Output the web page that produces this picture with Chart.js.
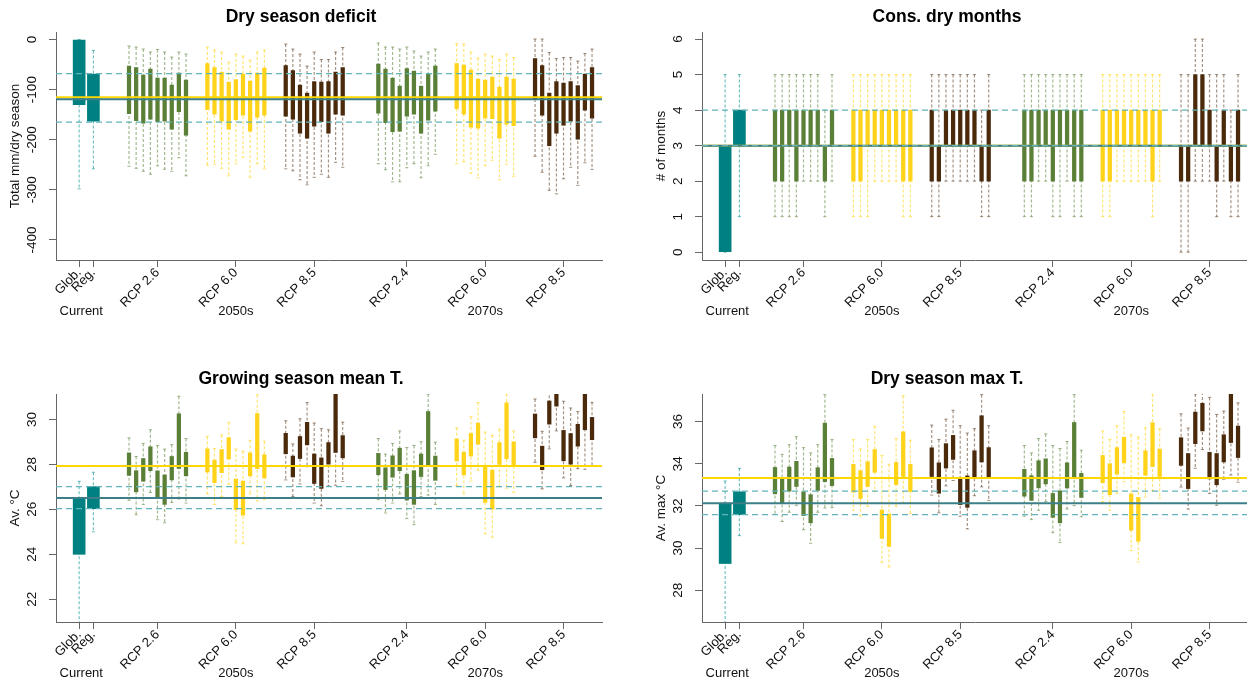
<!DOCTYPE html>
<html>
<head>
<meta charset="utf-8">
<title>Dry season indicators</title>
<script src="https://cdn.jsdelivr.net/npm/chart.js@4.4.1/dist/chart.umd.min.js"></script>
<style>
  html, body { margin: 0; padding: 0; background: #fff; }
  body { width: 1247px; height: 683px; overflow: hidden; position: relative; }
  canvas { position: absolute; }
</style>
</head>
<body>
<canvas id="deficitChart" width="646" height="342" style="left:0;top:0"></canvas>
<canvas id="monthsChart" width="646" height="342" style="left:646px;top:0"></canvas>
<canvas id="meanTChart" width="646" height="342" style="left:0;top:362px"></canvas>
<canvas id="maxTChart" width="646" height="342" style="left:646px;top:362px"></canvas>
<script>
const FONT = "'Liberation Sans', Arial, Helvetica, sans-serif";
Chart.defaults.font.family = FONT;

// x axis: one slot per bar, Glob./Reg. first, then 6 scenario groups of 9 models
const currentSlots = [0, 2];
const groupFirstSlot = [7, 18, 29, 42, 53, 64];
const modelsPerGroup = 9;
const xMin = -3.25;
const xMax = 73.4;

const xTickPos = [0, 2, 11, 22, 33, 46, 57, 68];
const xTickLabels = ["Glob.", "Reg.", "RCP 2.6", "RCP 6.0", "RCP 8.5", "RCP 2.4", "RCP 6.0", "RCP 8.5"];
const periodPos = [0.3, 22, 57];
const periodLabels = ["Current", "2050s", "2070s"];

// every row: [box top, box bottom, whisker top, whisker bottom]
// groups of 9 rows: RCP 2.6 (2.4), RCP 6.0, RCP 8.5

// Dry season deficit (mm)
const deficitCurrent = [[0, -130, 0, -298], [-69, -163, -22, -258]];
const deficit2050 = [
  [-53, -148, -13, -253], [-56, -162, -15, -257], [-71, -167, -19, -263], [-59, -159, -25, -269], [-77, -164, -20, -252],
  [-77, -163, -25, -259], [-91, -179, -35, -263], [-67, -144, -25, -236], [-81, -191, -29, -272],
  [-48, -140, -15, -251], [-56, -149, -21, -249], [-65, -163, -25, -257], [-85, -179, -45, -272], [-80, -160, -29, -248],
  [-69, -151, -33, -235], [-83, -183, -41, -275], [-67, -155, -25, -248], [-57, -151, -21, -258],
  [-52, -153, -9, -258], [-62, -159, -19, -262], [-91, -187, -29, -280], [-107, -197, -53, -290], [-84, -173, -25, -275],
  [-85, -164, -40, -269], [-84, -187, -40, -275], [-65, -149, -25, -245], [-56, -151, -16, -255],
];
const deficit2070 = [
  [-49, -147, -7, -248], [-59, -166, -15, -260], [-77, -184, -15, -284], [-93, -183, -19, -284], [-58, -153, -15, -256],
  [-63, -149, -23, -248], [-93, -187, -33, -276], [-69, -161, -25, -252], [-53, -143, -19, -229],
  [-48, -138, -8, -248], [-51, -149, -9, -244], [-61, -175, -25, -267], [-79, -177, -37, -276], [-81, -157, -29, -252],
  [-75, -158, -33, -241], [-95, -197, -40, -280], [-75, -169, -29, -249], [-79, -172, -36, -273],
  [-38, -119, 1, -233], [-52, -151, 1, -265], [-107, -212, -26, -301], [-84, -187, -38, -308], [-87, -171, -36, -278],
  [-84, -163, -36, -255], [-92, -199, -43, -291], [-69, -141, -28, -246], [-56, -157, -19, -259],
];
// reference lines: [upper dashed, lower dashed, regional median, future median]
const deficitRef = [-68, -165, -119, -115];
const deficitTicks = [0, -100, -200, -300, -400];

// Consecutive dry months
const monthsCurrent = [[3, 0, 5, 0], [4, 3, 5, 1]];
const months2050 = [
  [4, 2, 5, 1], [4, 2, 5, 1], [4, 3, 5, 1], [4, 2, 5, 1], [4, 3, 5, 2], [4, 3, 5, 2], [4, 3, 5, 2], [3, 2, 4, 1], [4, 3, 5, 2],
  [4, 2, 5, 1], [4, 2, 5, 1], [4, 3, 5, 1], [4, 3, 5, 2], [4, 3, 5, 2], [4, 3, 5, 2], [4, 3, 5, 2], [4, 2, 5, 1], [4, 2, 5, 1],
  [4, 2, 5, 1], [3, 2, 5, 1], [4, 3, 5, 2], [4, 3, 5, 2], [4, 3, 5, 2], [4, 3, 5, 2], [4, 3, 5, 2], [3, 2, 4, 1], [4, 2, 5, 1],
];
const months2070 = [
  [4, 2, 5, 1], [4, 2, 5, 1], [4, 3, 5, 2], [4, 3, 5, 2], [4, 2, 5, 1], [4, 3, 5, 1], [4, 3, 5, 2], [4, 2, 5, 1], [4, 2, 5, 1],
  [4, 2, 5, 1], [4, 2, 5, 1], [4, 3, 5, 2], [4, 3, 5, 2], [4, 3, 5, 2], [4, 3, 5, 2], [4, 3, 5, 2], [4, 2, 5, 1], [4, 3, 5, 2],
  [3, 2, 5, 0], [3, 2, 5, 0], [5, 3, 6, 2], [5, 3, 6, 2], [4, 3, 5, 2], [3, 2, 5, 1], [4, 3, 5, 2], [3, 2, 4, 1], [4, 2, 5, 1],
];
const monthsRef = [4, 3, 3, 3];
const monthsTicks = [0, 1, 2, 3, 4, 5, 6];

// Growing season mean temperature (°C)
const meanTCurrent = [[26.51, 24.0, 27.25, 20.5], [27.01, 26.03, 27.65, 25.0]];
const meanT2050 = [
  [28.51, 27.51, 29.18, 26.4], [27.72, 26.78, 28.35, 25.76], [28.26, 27.25, 28.93, 26.22], [28.78, 27.72, 29.54, 26.75],
  [27.71, 26.54, 28.84, 25.54], [27.53, 26.22, 28.68, 25.4], [28.35, 27.31, 28.88, 26.31], [30.25, 27.82, 31.03, 26.46],
  [28.54, 27.49, 29.15, 26.28],
  [28.69, 27.66, 29.24, 26.68], [28.19, 27.19, 28.71, 26.22], [28.66, 27.63, 29.31, 26.57], [29.19, 28.24, 29.87, 27.12],
  [27.35, 25.99, 28.68, 24.51], [27.26, 25.74, 28.59, 24.47], [28.51, 27.49, 29.07, 26.68], [30.26, 27.81, 31.1, 26.37],
  [28.43, 27.4, 29.03, 26.43],
  [29.38, 28.47, 29.94, 27.31], [28.37, 27.44, 28.91, 26.57], [29.24, 28.26, 30.03, 27.13], [29.87, 28.87, 30.75, 27.9],
  [28.46, 27.15, 29.84, 26.28], [28.29, 26.93, 29.59, 26.16], [28.97, 28.01, 29.54, 27.04], [31.5, 28.53, 32.0, 27.07],
  [29.28, 28.29, 29.88, 27.24],
];
const meanT2070 = [
  [28.49, 27.54, 29.15, 26.43], [27.85, 26.88, 28.46, 25.84], [28.38, 27.43, 28.93, 26.28], [28.72, 27.72, 29.49, 26.69],
  [27.56, 26.41, 28.75, 25.59], [27.72, 26.22, 28.84, 25.32], [28.46, 27.46, 29.01, 26.57], [30.35, 27.97, 31.13, 26.63],
  [28.37, 27.29, 28.99, 26.22],
  [29.13, 28.15, 29.63, 27.06], [28.54, 27.53, 29.07, 26.68], [29.37, 28.37, 30.12, 27.26], [29.84, 28.9, 30.75, 27.74],
  [27.93, 26.31, 29.44, 24.91], [27.75, 26.01, 29.29, 24.76], [28.97, 28.0, 29.56, 27.0], [30.74, 28.25, 31.13, 26.94],
  [29.0, 27.93, 29.49, 26.76],
  [30.24, 29.18, 30.91, 28.09], [28.81, 27.76, 29.47, 26.91], [30.82, 29.79, 31.3, 28.69], [31.6, 30.59, 32.3, 29.49],
  [29.51, 28.16, 30.81, 27.4], [29.37, 28.01, 30.51, 27.06], [29.78, 28.81, 30.35, 27.81], [31.2, 29.54, 31.6, 27.78],
  [30.09, 29.1, 30.76, 27.93],
];
const meanTRef = [27.01, 26.03, 26.5, 27.93];
const meanTTicks = [22, 24, 26, 28, 30];

// Dry season maximum temperature (°C)
const maxTCurrent = [[32.13, 29.27, 33.18, 26.3], [32.67, 31.59, 33.78, 30.59]];
const maxT2050 = [
  [33.82, 32.57, 34.86, 31.6], [33.29, 32.13, 34.44, 31.26], [33.84, 32.7, 34.9, 31.7], [34.11, 32.92, 35.28, 32.01],
  [32.67, 31.54, 34.76, 30.87], [32.53, 31.2, 34.51, 30.23], [33.81, 32.73, 34.9, 31.7], [35.92, 33.15, 37.27, 31.9],
  [34.25, 32.96, 35.14, 31.92],
  [33.97, 32.65, 35.14, 31.79], [33.67, 32.35, 34.7, 31.52], [34.09, 32.92, 35.14, 31.98], [34.67, 33.59, 35.77, 32.67],
  [31.81, 30.46, 34.39, 29.33], [31.62, 30.08, 33.97, 29.11], [34.06, 33.01, 35.19, 31.98], [35.51, 33.39, 37.22, 32.13],
  [33.97, 32.68, 35.11, 31.63],
  [34.75, 33.39, 35.83, 32.51], [34.04, 32.6, 35.15, 31.67], [34.95, 33.79, 36.11, 32.95], [35.34, 34.2, 36.53, 33.2],
  [33.34, 32.06, 35.8, 31.51], [33.42, 31.93, 35.45, 30.91], [34.61, 33.29, 35.66, 32.48], [36.27, 34.08, 37.27, 32.9],
  [34.76, 33.36, 35.8, 32.26],
];
const maxT2070 = [
  [33.73, 32.46, 34.86, 31.51], [33.43, 32.26, 34.51, 31.35], [34.14, 32.85, 35.19, 31.79], [34.23, 33.04, 35.41, 32.2],
  [32.59, 31.46, 34.86, 30.73], [32.71, 31.2, 34.72, 30.26], [34.04, 32.85, 35.05, 31.85], [35.95, 33.34, 37.27, 32.01],
  [33.54, 32.4, 34.64, 31.48],
  [34.39, 33.1, 35.55, 32.2], [34.0, 32.53, 35.15, 31.79], [34.76, 33.5, 35.8, 32.6], [35.25, 34.04, 36.47, 33.15],
  [32.57, 30.85, 35.37, 29.88], [32.4, 30.32, 35.26, 29.35], [34.61, 33.45, 35.7, 32.42], [35.94, 33.86, 37.3, 32.73],
  [34.69, 33.39, 35.66, 32.37],
  [35.23, 33.92, 36.36, 32.89], [34.48, 32.82, 35.69, 31.85], [36.44, 34.95, 37.3, 33.78], [36.86, 35.55, 37.4, 34.67],
  [34.54, 33.28, 37.14, 32.59], [34.48, 33.0, 36.33, 32.03], [35.37, 34.08, 36.49, 33.26], [37.35, 35.0, 37.8, 33.46],
  [35.78, 34.29, 36.88, 33.12],
];
const maxTRef = [32.7, 31.59, 32.13, 33.32];
const maxTTicks = [28, 30, 32, 34, 36];

// colours: current (teal), RCP 2.6/2.4 (green), RCP 6.0 (yellow), RCP 8.5 (brown)
const barColors = ["#008080", "#5a7f36", "#ffd31a", "#4b2a0b"];
const whiskerColors = ["rgba(0,140,140,0.55)", "rgba(90,127,54,0.55)", "rgba(255,211,26,0.6)", "rgba(75,42,11,0.5)"];
const axisColor = "#666";
const TICK_SIZE = 13.5;

// centre the rotated y tick labels about 24px left of the axis
const measureCtx = document.createElement("canvas").getContext("2d");
function yLabelPadding(ticks) {
  measureCtx.font = `${TICK_SIZE}px ${FONT}`;
  const widest = Math.max(...ticks.map((t) => measureCtx.measureText(String(t)).width));
  return 17 - widest / 2;
}

function refLine(value, color, dash, order) {
  return {
    type: "line",
    order: order,
    data: [{ x: xMin, y: value }, { x: xMax, y: value }],
    borderColor: color,
    borderWidth: dash ? 1.3 : 2,
    borderDash: dash || [],
    pointRadius: 0,
  };
}

// the period row sits partly beside the rotated labels, as in the original figure
const periodRowLift = {
  id: "periodRowLift",
  afterLayout(chart) {
    const s = chart.scales.x2;
    s.top -= 14;
    s.bottom -= 14;
  },
};

function makeChart(id, title, yTitle, yMin, yMax, yTicks, current, fut2050, fut2070, ref) {
  // place every row on its slot
  const rows = [];
  current.forEach((s, i) => rows.push({ x: currentSlots[i], c: 0, s }));
  [fut2050, fut2070].forEach((period, p) => {
    period.forEach((s, i) => {
      const g = Math.floor(i / modelsPerGroup);
      rows.push({ x: groupFirstSlot[p * 3 + g] + (i % modelsPerGroup), c: g + 1, s });
    });
  });

  const datasets = [];
  barColors.forEach((color, c) => {
    const mine = rows.filter((r) => r.c === c);
    // dashed whiskers with small caps, broken between bars
    datasets.push({
      type: "line",
      order: 3,
      data: mine.flatMap((r) => [
        { x: r.x, y: r.s[2] },
        { x: r.x, y: r.s[3] },
        { x: r.x, y: null },
      ]),
      borderColor: whiskerColors[c],
      borderWidth: 1.2,
      borderDash: [3, 2],
      spanGaps: false,
      pointStyle: "line",
      pointRadius: 1.6,
      pointBorderWidth: 1,
      pointBorderColor: whiskerColors[c],
    });
    // boxes (floating bars)
    datasets.push({
      type: "bar",
      order: 2,
      stack: "all",
      data: mine.map((r) => ({ x: r.x, y: [r.s[1], r.s[0]] })),
      backgroundColor: color,
      borderWidth: 0,
      barThickness: c === 0 ? 12 : 3.6,
    });
  });
  datasets.push(refLine(ref[3], "#ffd700", null, 1.5));
  datasets.push(refLine(ref[2], "#3d7f88", null, 1));
  datasets.push(refLine(ref[0], "#62b4ba", [6, 4], 0));
  datasets.push(refLine(ref[1], "#62b4ba", [6, 4], 0));

  return new Chart(document.getElementById(id), {
    type: "bar",
    data: { datasets },
    plugins: [periodRowLift],
    options: {
      responsive: false,
      animation: false,
      events: [],
      layout: { padding: { left: 0, right: 44, top: 0, bottom: 0 } },
      plugins: {
        legend: { display: false },
        tooltip: { enabled: false },
        title: {
          display: true,
          text: title,
          color: "#000",
          font: { size: 17.5, weight: "bold" },
          padding: { top: 7, bottom: 4 },
        },
      },
      scales: {
        x: {
          type: "linear",
          min: xMin,
          max: xMax,
          offset: false,
          grid: { drawOnChartArea: false, offset: false, tickLength: 7, color: axisColor },
          border: { color: axisColor },
          afterBuildTicks: (s) => { s.ticks = xTickPos.map((v) => ({ value: v })); },
          afterFit: (s) => { s.height = 52; s.paddingLeft = 0; s.paddingRight = 0; },
          ticks: {
            autoSkip: false,
            minRotation: 45,
            maxRotation: 45,
            padding: -2,
            color: "#111",
            font: { size: 13 },
            callback: (v, i) => xTickLabels[i],
          },
        },
        x2: {
          type: "linear",
          position: "bottom",
          weight: 1,
          min: xMin,
          max: xMax,
          offset: false,
          grid: { display: false, drawTicks: false },
          border: { display: false },
          afterBuildTicks: (s) => { s.ticks = periodPos.map((v) => ({ value: v })); },
          afterFit: (s) => { s.height = 30; s.paddingLeft = 0; s.paddingRight = 0; },
          ticks: {
            autoSkip: false,
            maxRotation: 0,
            padding: 6,
            color: "#111",
            font: { size: 13 },
            callback: (v, i) => periodLabels[i],
          },
        },
        y: {
          min: yMin,
          max: yMax,
          stacked: false,
          grid: { drawOnChartArea: false, tickLength: 7, color: axisColor },
          border: { color: axisColor },
          title: {
            display: true,
            text: yTitle,
            color: "#111",
            font: { size: TICK_SIZE },
            padding: { top: 7, bottom: 0 },
          },
          afterBuildTicks: (s) => { s.ticks = yTicks.map((v) => ({ value: v })); },
          afterFit: (s) => { s.width = 56; s.paddingTop = 0; s.paddingBottom = 0; },
          ticks: {
            minRotation: 90,
            maxRotation: 90,
            crossAlign: "center",
            padding: yLabelPadding(yTicks),
            color: "#111",
            font: { size: TICK_SIZE },
          },
        },
      },
    },
  });
}

makeChart("deficitChart", "Dry season deficit", "Total mm/dry season", -440, 15, deficitTicks,
  deficitCurrent, deficit2050, deficit2070, deficitRef);
makeChart("monthsChart", "Cons. dry months", "# of months", -0.22, 6.2, monthsTicks,
  monthsCurrent, months2050, months2070, monthsRef);
makeChart("meanTChart", "Growing season mean T.", "Av. °C", 20.99, 31.13, meanTTicks,
  meanTCurrent, meanT2050, meanT2070, meanTRef);
makeChart("maxTChart", "Dry season max T.", "Av. max °C", 26.5, 37.3, maxTTicks,
  maxTCurrent, maxT2050, maxT2070, maxTRef);
</script>
</body>
</html>
